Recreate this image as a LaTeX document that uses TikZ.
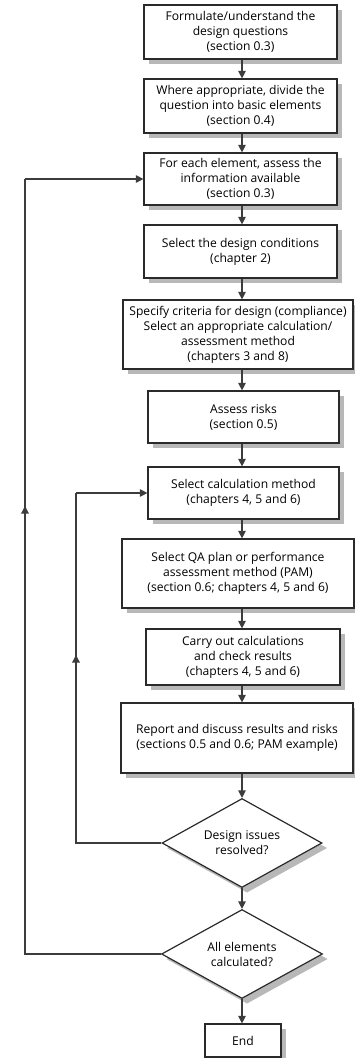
\documentclass[tikz,border=0pt]{standalone}
\usepackage{fontspec}
\setmainfont{Open Sans}
\usetikzlibrary{arrows.meta,shapes.geometric,calc}
\definecolor{edge}{HTML}{2A2A2A}
\definecolor{wire}{HTML}{3C3C3C}
\definecolor{shade}{HTML}{B8B8B8}
\tikzset{
  stepbox/.style={draw=edge, line width=1.2pt, fill=white, align=center, inner sep=2pt,
    font=\fontsize{12.1}{15}\selectfont},
  decbox/.style={diamond, draw=edge, line width=1.2pt, fill=white, align=center, inner sep=0pt,
    aspect=1.8, font=\fontsize{12.1}{15}\selectfont},
  flow/.style={draw=wire, line width=1.2pt, -{Triangle[length=7.5pt,width=7.5pt]}},
  plain/.style={draw=wire, line width=1.2pt},
  shadowfill/.style={fill=shade, draw=none},
}
\begin{document}
\begin{tikzpicture}[x=1pt,y=-1pt]
\useasboundingbox (0,0) rectangle (354,1058);
% shadows first (drawn beneath the boxes)
\foreach \cx/\cy/\w/\h in {240.5/32/193/54, 240.5/106/193/54, 240.5/179/193/52, 240.5/251.5/193/53,
  238/334.5/230/69, 243.5/417/191/52, 243.5/493/191/52, 238/573.5/232/69, 243/657/194/56,
  237/738/232/70, 243/1040.5/76/33}{
  \fill[shadowfill] (\cx-\w/2+5,\cy-\h/2+5) rectangle (\cx+\w/2+5,\cy+\h/2+5);
}
\foreach \cx/\cy/\w/\h in {242/843/160/89, 242/954/161/89}{
  \fill[shadowfill] (\cx+5,\cy-\h/2+5) -- (\cx+\w/2+5,\cy+5) -- (\cx+5,\cy+\h/2+5) -- (\cx-\w/2+5,\cy+5) -- cycle;
}
\node[stepbox, minimum width=193pt, minimum height=54pt] (b1) at (240.5,32) {Formulate/understand the\\design questions\\(section 0.3)};
\node[stepbox, minimum width=193pt, minimum height=54pt] (b2) at (240.5,106) {Where appropriate, divide the\\question into basic elements\\(section 0.4)};
\node[stepbox, minimum width=193pt, minimum height=52pt] (b3) at (240.5,179) {For each element, assess the\\information available\\(section 0.3)};
\node[stepbox, minimum width=193pt, minimum height=53pt] (b4) at (240.5,251.5) {Select the design conditions\\(chapter 2)};
\node[stepbox, minimum width=230pt, minimum height=69pt] (b5) at (238,334.5) {Specify criteria for design (compliance)\\Select an appropriate calculation/\\assessment method\\(chapters 3 and 8)};
\node[stepbox, minimum width=191pt, minimum height=52pt] (b6) at (243.5,417) {Assess risks\\(section 0.5)};
\node[stepbox, minimum width=191pt, minimum height=52pt] (b7) at (243.5,493) {Select calculation method\\(chapters 4, 5 and 6)};
\node[stepbox, minimum width=232pt, minimum height=69pt] (b8) at (238,573.5) {Select QA plan or performance\\assessment method (PAM)\\(section 0.6; chapters 4, 5 and 6)};
\node[stepbox, minimum width=194pt, minimum height=56pt] (b9) at (243,657) {Carry out calculations\\and check results\\(chapters 4, 5 and 6)};
\node[stepbox, minimum width=232pt, minimum height=70pt] (b10) at (237,738) {Report and discuss results and risks\\(sections 0.5 and 0.6; PAM example)};
\node[decbox, minimum width=160pt, minimum height=89pt] (d1) at (242,843) {Design issues\\resolved?};
\node[decbox, minimum width=161pt, minimum height=89pt] (d2) at (242,954) {All elements\\calculated?};
\node[stepbox, minimum width=76pt, minimum height=33pt] (e) at (243,1040.5) {End};
\coordinate (ax) at (242,0);
\coordinate (inx) at (76,0);
\coordinate (outx) at (25,0);
\foreach \a/\b in {b1/b2,b2/b3,b3/b4,b4/b5,b5/b6,b6/b7,b7/b8,b8/b9,b9/b10,b10/d1,d1/d2,d2/e}{
  \draw[flow] (\a.south -| ax) -- (\b.north -| ax);
}
% inner loop
\coordinate (i1) at (d1.west -| inx);
\coordinate (i2) at (b7.west -| inx);
\coordinate (im) at (76,655);
\draw[plain] (d1.west) -- (i1) -- (i2);
\draw[flow] (i2) -- (b7.west);
\draw[flow] (i1) -- (im);
% outer loop
\coordinate (o1) at (d2.west -| outx);
\coordinate (o2) at (b3.west -| outx);
\coordinate (om) at (25,506);
\draw[plain] (d2.west) -- (o1) -- (o2);
\draw[flow] (o2) -- (b3.west);
\draw[flow] (o1) -- (om);
\end{tikzpicture}
\end{document}
